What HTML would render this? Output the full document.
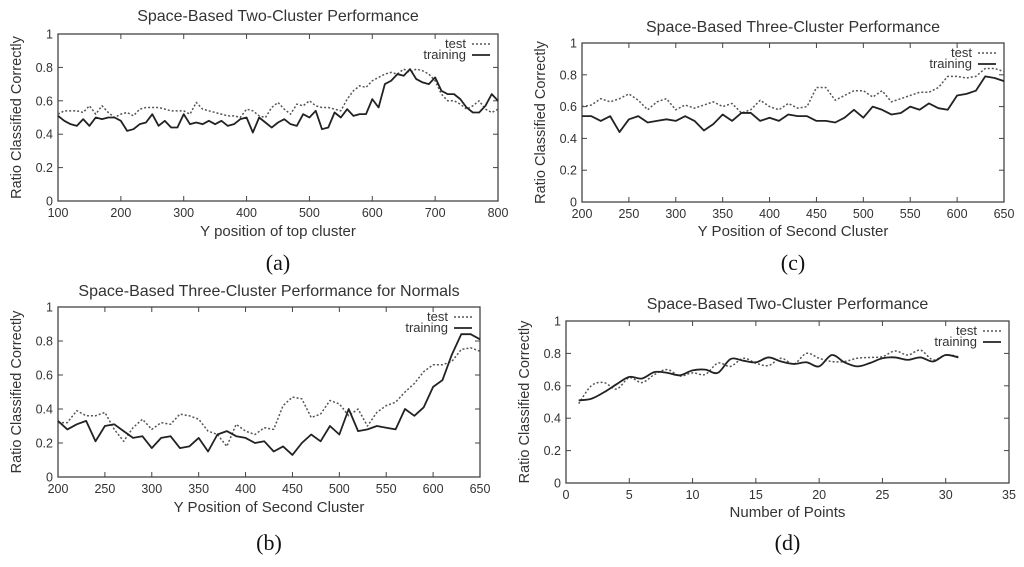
<!DOCTYPE html>
<html><head><meta charset="utf-8"><style>
body{margin:0;background:#fff;width:1024px;height:562px;overflow:hidden}
svg text{font-family:"Liberation Sans",sans-serif;fill:#333}
</style></head><body>
<svg id="s" width="1024" height="562" viewBox="0 0 1024 562"></svg>
<script>
const aTrain=[0.51,0.48,0.46,0.45,0.49,0.45,0.50,0.49,0.50,0.50,0.48,0.42,0.43,0.46,0.47,0.52,0.45,0.48,0.44,0.44,0.52,0.46,0.47,0.46,0.48,0.46,0.48,0.45,0.46,0.49,0.50,0.41,0.50,0.47,0.44,0.47,0.49,0.46,0.45,0.52,0.50,0.54,0.43,0.44,0.53,0.50,0.55,0.51,0.52,0.52,0.61,0.56,0.70,0.72,0.76,0.75,0.79,0.73,0.71,0.70,0.74,0.66,0.64,0.64,0.61,0.56,0.53,0.53,0.57,0.64,0.60];
const aTest=[0.52,0.54,0.54,0.54,0.53,0.57,0.52,0.57,0.53,0.50,0.52,0.53,0.51,0.55,0.56,0.56,0.56,0.55,0.54,0.54,0.54,0.52,0.59,0.55,0.54,0.53,0.52,0.51,0.51,0.50,0.55,0.54,0.51,0.50,0.56,0.59,0.55,0.52,0.58,0.57,0.60,0.57,0.56,0.56,0.55,0.54,0.61,0.66,0.69,0.68,0.72,0.74,0.76,0.77,0.76,0.79,0.77,0.79,0.78,0.76,0.72,0.64,0.60,0.60,0.58,0.55,0.57,0.60,0.55,0.53,0.55];
const cTrain=[0.54,0.54,0.51,0.54,0.44,0.52,0.54,0.50,0.51,0.52,0.51,0.54,0.51,0.45,0.49,0.55,0.51,0.56,0.56,0.51,0.53,0.51,0.55,0.54,0.54,0.51,0.51,0.50,0.53,0.58,0.53,0.60,0.58,0.55,0.56,0.60,0.58,0.62,0.59,0.58,0.67,0.68,0.70,0.79,0.78,0.76];
const cTest=[0.60,0.61,0.65,0.63,0.65,0.68,0.64,0.58,0.63,0.65,0.58,0.61,0.59,0.61,0.63,0.60,0.62,0.56,0.58,0.64,0.60,0.58,0.62,0.59,0.60,0.72,0.72,0.64,0.67,0.70,0.70,0.66,0.70,0.63,0.65,0.67,0.69,0.69,0.72,0.79,0.79,0.78,0.79,0.84,0.84,0.82];
const bTrain=[0.33,0.28,0.31,0.33,0.21,0.30,0.31,0.27,0.23,0.24,0.17,0.23,0.24,0.17,0.18,0.23,0.15,0.25,0.27,0.24,0.23,0.20,0.21,0.15,0.18,0.13,0.20,0.25,0.21,0.30,0.25,0.40,0.27,0.28,0.30,0.29,0.28,0.40,0.36,0.41,0.53,0.57,0.72,0.84,0.84,0.81];
const bTest=[0.32,0.32,0.39,0.36,0.36,0.38,0.28,0.21,0.29,0.34,0.28,0.32,0.31,0.37,0.36,0.34,0.27,0.25,0.18,0.31,0.27,0.25,0.29,0.28,0.42,0.47,0.46,0.35,0.37,0.45,0.43,0.36,0.40,0.30,0.38,0.42,0.44,0.50,0.55,0.62,0.66,0.66,0.68,0.75,0.76,0.74];
const dTrain=[0.51,0.52,0.56,0.61,0.655,0.645,0.685,0.68,0.665,0.695,0.70,0.68,0.765,0.755,0.745,0.775,0.75,0.735,0.745,0.72,0.79,0.745,0.72,0.74,0.77,0.775,0.76,0.775,0.75,0.79,0.775];
const dTest=[0.49,0.60,0.62,0.58,0.65,0.62,0.67,0.70,0.66,0.68,0.67,0.74,0.72,0.77,0.74,0.725,0.77,0.735,0.80,0.77,0.75,0.75,0.77,0.775,0.78,0.815,0.79,0.82,0.76,0.79,0.78];
const yTicks=[0,0.2,0.4,0.6,0.8,1];
const yTickLabels=["0","0.2","0.4","0.6","0.8","1"];
const aXTicks=[100,200,300,400,500,600,700,800];
const bcXTicks=[200,250,300,350,400,450,500,550,600,650];
const dXTicks=[0,5,10,15,20,25,30,35];

const S=document.getElementById('s');
const NS='http://www.w3.org/2000/svg';
function mk(t,a,p){const e=document.createElementNS(NS,t);for(const k in a)e.setAttribute(k,a[k]);(p||S).appendChild(e);return e;}
function txt(x,y,s,a,p){const e=mk('text',Object.assign({x:x,y:y},a),p);e.textContent=s;return e;}

function panel(o){
  const g=mk('g',{});
  
  
  const X=v=>o.L+(v-o.x0)/(o.x1-o.x0)*(o.R-o.L);
  const Y=v=>o.B-v*(o.B-o.T);
  const fr=mk('rect',{x:o.L,y:o.T,width:o.R-o.L,height:o.B-o.T,fill:'none',stroke:'#444','stroke-width':1.3},g);
  
  
  yTicks.forEach((v,i)=>{
    mk('line',{x1:o.L,x2:o.L+5,y1:Y(v),y2:Y(v),stroke:'#444'},g);
    mk('line',{x1:o.R,x2:o.R-5,y1:Y(v),y2:Y(v),stroke:'#444'},g);
    const t=txt(o.L-5,Y(v)+4.5,yTickLabels[i],{'font-size':12.5,'text-anchor':'end'},g);
    
    
  });
  o.xt.forEach(v=>{
    mk('line',{x1:X(v),x2:X(v),y1:o.B,y2:o.B-5,stroke:'#444'},g);
    mk('line',{x1:X(v),x2:X(v),y1:o.T,y2:o.T+5,stroke:'#444'},g);
    const t=txt(X(v),o.B+16,String(v),{'font-size':12.5,'text-anchor':'middle'},g);
    
    
  });
  const tt=txt((o.L+o.R)/2,o.titleY,o.title,{'font-size':16,'text-anchor':'middle'},g);
  
  
  const xl=txt((o.L+o.R)/2,o.xlY,o.xlabel,{'font-size':15,'text-anchor':'middle'},g);
  
  
  const yx=o.L-37, yy=(o.T+o.B)/2;
  const yl=txt(yx,yy,'Ratio Classified Correctly',{'font-size':14.5,'text-anchor':'middle',transform:'rotate(-90 '+yx+' '+yy+')'},g);
  
  
  const cap=txt((o.L+o.R)/2,o.capY,o.cap,{'font-size':22,'text-anchor':'middle',style:'font-family:"Liberation Serif",serif;fill:#111'},g);
  
  
  function path(arr,dash,w){
    const pts=arr.map((v,i)=>[X(o.xs+i*o.step),Y(v)]);
    let d='M'+pts[0][0]+','+pts[0][1];
    if(o.smooth){
      for(let i=0;i<pts.length-1;i++){
        const p0=pts[Math.max(0,i-1)],p1=pts[i],p2=pts[i+1],p3=pts[Math.min(pts.length-1,i+2)];
        d+=' C'+(p1[0]+(p2[0]-p0[0])/6)+','+(p1[1]+(p2[1]-p0[1])/6)+' '+(p2[0]-(p3[0]-p1[0])/6)+','+(p2[1]-(p3[1]-p1[1])/6)+' '+p2[0]+','+p2[1];
      }
    } else pts.slice(1).forEach(p=>d+=' L'+p[0]+','+p[1]);
    return mk('path',{d:d,fill:'none',stroke:dash?'#555':'#222','stroke-width':w,'stroke-dasharray':dash?'2,2':'none','stroke-linejoin':'round'},g);
  }
  const p1=path(o.test,true,1.5);
  
  
  const p2=path(o.train,false,1.8);
  
  
  const lx=o.R-32, ly=o.T+14;
  const l1=txt(lx,ly,'test',{'font-size':13,'text-anchor':'end'},g);
  
  
  mk('line',{x1:lx+6,x2:lx+24,y1:ly-4,y2:ly-4,stroke:'#555','stroke-width':1.5,'stroke-dasharray':'2,2'},g);
  const l2=txt(lx,ly+11,'training',{'font-size':13,'text-anchor':'end'},g);
  
  
  mk('line',{x1:lx+6,x2:lx+24,y1:ly+7,y2:ly+7,stroke:'#222','stroke-width':1.8},g);
}
panel({id:'a',L:58,R:498,T:34,B:201,x0:100,x1:800,xt:aXTicks,xs:100,step:10,train:aTrain,test:aTest,title:'Space-Based Two-Cluster Performance',titleY:21,xlabel:'Y position of top cluster',xlY:236,cap:'(a)',capY:270});
panel({id:'c',L:582,R:1004,T:43,B:202,x0:200,x1:650,xt:bcXTicks,xs:200,step:10,train:cTrain,test:cTest,title:'Space-Based Three-Cluster Performance',titleY:32,xlabel:'Y Position of Second Cluster',xlY:236,cap:'(c)',capY:270});
panel({id:'b',L:58,R:480,T:307,B:477,x0:200,x1:650,xt:bcXTicks,xs:200,step:10,train:bTrain,test:bTest,title:'Space-Based Three-Cluster Performance for Normals',titleY:296,xlabel:'Y Position of Second Cluster',xlY:512,cap:'(b)',capY:550});
panel({id:'d',L:566,R:1009,T:321,B:483,x0:0,x1:35,xt:dXTicks,xs:1,step:1,train:dTrain,test:dTest,smooth:true,title:'Space-Based Two-Cluster Performance',titleY:309,xlabel:'Number of Points',xlY:517,cap:'(d)',capY:550});
</script>
</body></html>
